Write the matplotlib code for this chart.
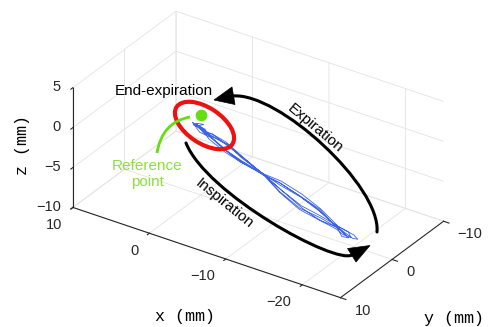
import numpy as np
import matplotlib
matplotlib.use('Agg')
import matplotlib.pyplot as plt
from matplotlib.patches import Ellipse, Polygon, PathPatch
from matplotlib.path import Path
from mpl_toolkits.mplot3d import proj3d

plt.rcParams['font.family'] = ['Liberation Sans', 'DejaVu Sans']

# respiratory trajectory (mm), four breathing cycles
traj_x = [0.5, -0.4, -1.2, -1.9, -3.8, -5.9, -9.0, -11.3, -14.1, -16.7, -19.3, -20.6, -21.0, -20.4, -19.2, -16.6, -14.0, -11.2, -8.9, -6.0, -3.9, -1.7, -0.6, 0.3,
          0.3, -0.5, 0.2, -1.0, -1.7, -3.7, -6.0, -9.1, -11.4, -14.2, -16.8, -19.2, -20.2, -20.5, -19.9, -19.0, -16.5, -14.1, -11.3, -9.0, -5.9, -3.8, -1.6, -0.2, 0.6,
          0.6, -0.8, 0.1, -1.4, -3.9, -6.0, -8.9, -11.2, -14.0, -16.6, -19.4, -21.0, -21.6, -21.1, -19.3, -16.8, -14.3, -11.4, -9.0, -5.8, -3.7, -1.5, -0.3, 0.8, 0.2,
          0.2, -0.6, -1.8, -3.9, -5.9, -9.0, -11.3, -14.1, -16.7, -19.1, -20.4, -20.8, -20.1, -19.3, -16.7, -14.0, -11.3, -8.9, -6.0, -3.8, -1.9, -0.5, 0.4]
traj_y = [0.5, 0.7, 0.4, 0.7, 0.8, 0.9, 1.2, 1.5, 1.8, 1.9, 1.9, 2.3, 2.0, 1.7, 1.8, 1.5, 1.3, 1.1, 1.1, 0.9, 0.7, 0.5, 0.6, 0.4,
          0.4, 0.2, 0.6, 0.9, 0.5, 0.6, 1.1, 1.2, 1.0, 1.3, 1.8, 2.1, 2.5, 2.4, 2.2, 2.0, 1.9, 1.9, 1.6, 1.2, 1.0, 0.9, 0.8, 0.3, 0.5,
          0.6, 0.3, 0.9, 0.7, 1.0, 1.1, 1.2, 1.2, 1.3, 1.4, 1.6, 1.5, 1.6, 1.9, 2.0, 1.9, 1.8, 1.6, 1.2, 1.0, 0.6, 0.4, 0.7, 0.5, 0.3,
          0.3, 0.5, 0.6, 0.6, 1.0, 1.1, 1.5, 1.7, 1.6, 1.9, 2.2, 2.2, 2.5, 2.0, 1.7, 1.5, 1.4, 1.2, 1.1, 0.8, 0.6, 0.4, 0.5]
traj_z = [-1.2, -1.0, -1.6, -1.4, -2.0, -2.8, -4.0, -5.3, -6.4, -6.8, -7.0, -7.4, -7.6, -7.2, -6.9, -5.6, -4.7, -4.1, -3.95, -3.4, -2.9, -2.0, -1.5, -1.3,
          -1.3, -0.9, -0.8, -1.5, -1.5, -1.9, -2.6, -4.0, -5.4, -6.5, -6.9, -7.1, -7.2, -7.3, -7.0, -6.8, -5.5, -4.6, -4.0, -4.0, -3.5, -3.0, -2.1, -1.4, -1.1,
          -1.1, -1.4, -0.7, -1.5, -1.9, -2.7, -3.9, -5.1, -6.2, -6.6, -7.1, -7.5, -7.8, -7.7, -6.9, -5.7, -4.8, -4.3, -3.9, -3.5, -3.0, -2.1, -1.7, -0.9, -1.2,
          -1.2, -1.7, -1.8, -2.1, -2.9, -4.0, -5.2, -6.3, -6.7, -7.0, -7.3, -7.6, -7.5, -7.1, -5.6, -4.9, -4.2, -4.0, -3.3, -2.8, -2.0, -1.4, -1.2]

ref_point = [0.0, 0.0, 0.0]

xlim = (-25, 10)
ylim = (-10, 10)
zlim = (-10, 5)
xticks = [-20, -10, 0, 10]
yticks = [-10, 0, 10]
zticks = [-10, -5, 0, 5]

W, H = 488, 327
fig = plt.figure(figsize=(W / 100, H / 100), dpi=100, facecolor='white')
ax = fig.add_axes([0.1, 0.1, 0.8, 0.8], projection='3d', computed_zorder=False)
ax.set_proj_type('ortho')
ax.view_init(elev=30, azim=124)
ax.set_xlim(*xlim)
ax.set_ylim(*ylim)
ax.set_zlim(*zlim)
ax.set_box_aspect((xlim[1] - xlim[0], ylim[1] - ylim[0], zlim[1] - zlim[0]))
ax.set_xticks(xticks)
ax.set_yticks(yticks)
ax.set_zticks(zticks)
ax.zaxis.set_ticks_position('upper')
ax.set_facecolor('none')

grid_c = '#e3e3e3'
for axis in (ax.xaxis, ax.yaxis, ax.zaxis):
    axis.set_pane_color((1, 1, 1, 0))
    axis.pane.set_edgecolor(grid_c)
    axis._axinfo['grid'].update(color=grid_c, linewidth=0.6)
    axis._axinfo['tick'].update(inward_factor=0.25, outward_factor=0.0, linewidth={True: 0.8, False: 0.5})
    axis.line.set_color('#262626')
    axis.line.set_linewidth(0.8)
    axis.set_tick_params(labelbottom=False, colors='#262626')
    axis.label.set_visible(False)
    axis.offsetText.set_visible(False)

ax.plot(traj_x, traj_y, traj_z, color='#3d63e6', lw=0.6)
ax.scatter([ref_point[0]], [ref_point[1]], [ref_point[2]], s=55, color='#66dd11',
           depthshade=False, zorder=5)

# place the 3d box so that its corners land where the reference has them
corners = [(10, 10, -10), (-25, 10, -10), (-25, -10, -10), (10, 10, 5)]
targets = np.array([(73, 207), (340, 297), (444, 223), (73, 87)], float)
targets[:, 1] = H - targets[:, 1]


def to_px(x, y, z):
    xs, ys, _ = proj3d.proj_transform(x, y, z, ax.get_proj())
    return ax.transData.transform((xs, ys))


for _ in range(2):
    fig.canvas.draw()
    pts = np.array([to_px(*c) for c in corners])
    k = np.linalg.norm(targets - targets.mean(0), axis=1).sum() / np.linalg.norm(pts - pts.mean(0), axis=1).sum()
    bb = ax.get_position()
    cen = np.array([(bb.x0 + bb.x1) / 2 * W, (bb.y0 + bb.y1) / 2 * H])
    size = bb.width * W * k
    new_cen = targets.mean(0) - k * (pts.mean(0) - cen)
    ax.set_position([(new_cen[0] - size / 2) / W, (new_cen[1] - size / 2) / H, size / W, size / H])
fig.canvas.draw()

# annotation overlay in pixel coordinates
ov = fig.add_axes([0, 0, 1, 1], zorder=10)
ov.set_xlim(0, W)
ov.set_ylim(H, 0)
ov.axis('off')


def label_at(x, y, z, s, ha):
    px, py = to_px(x, y, z)
    ov.text(px, H - py, s.replace('-', '\u2212'), fontsize=10.5, color='#262626', ha=ha, va='center')


# tick labels beside the tick marks, as in the original
for t in xticks:
    label_at(t, 12.14, -11.16, str(t), 'right')
for t in yticks:
    label_at(-26.84, t, -11.04, str(t), 'left')
for t in zticks:
    label_at(10, 12.33, t + 1.17, str(t), 'right')

# axis labels
mono = ['Liberation Mono', 'DejaVu Sans Mono']
ov.text(185, 316, 'x (mm)', family=mono, fontsize=12, ha='center', va='center')
ov.text(454, 318, 'y (mm)', family=mono, fontsize=12, ha='center', va='center')
ov.text(23, 145, 'z (mm)', family=mono, fontsize=12, ha='center', va='center', rotation=90)

ov.add_patch(Ellipse((204.5, 125.5), 67, 35.6, angle=33.6, fill=False, ec='#ee1111', lw=3))

green_arc = Path([(190, 117), (162, 122), (157, 153)], [Path.MOVETO, Path.CURVE3, Path.CURVE3])
ov.add_patch(PathPatch(green_arc, fc='none', ec='#66dd11', lw=2))

top_arc = Path([(233, 96), (278, 92), (381, 186), (377, 232)],
               [Path.MOVETO, Path.CURVE4, Path.CURVE4, Path.CURVE4])
ov.add_patch(PathPatch(top_arc, fc='none', ec='black', lw=2.2, capstyle='round'))
ov.add_patch(Polygon([(214, 100), (232, 87), (235, 104.5)], closed=True, fc='black', ec='black', lw=0.5))

bot_arc = Path([(186, 143), (206.4, 194), (334.4, 264.4), (352, 255)],
               [Path.MOVETO, Path.CURVE4, Path.CURVE4, Path.CURVE4])
ov.add_patch(PathPatch(bot_arc, fc='none', ec='black', lw=2.2, capstyle='round'))
ov.add_patch(Polygon([(370, 245.5), (347.5, 248.5), (356, 262)], closed=True, fc='black', ec='black', lw=0.5))

ov.text(163.5, 91, 'End-expiration', fontsize=11, ha='center', va='center')
ov.text(147, 174, 'Reference\npoint', fontsize=11, color='#8ee03a', ha='center', va='center',
        linespacing=1.15)
ov.text(315, 128, 'Expiration', fontsize=11, ha='center', va='center', rotation=-40,
        rotation_mode='anchor')
ov.text(224, 204, 'Inspiration', fontsize=11, ha='center', va='center', rotation=-39,
        rotation_mode='anchor')

fig.savefig('out.png', dpi=100, facecolor='white')
